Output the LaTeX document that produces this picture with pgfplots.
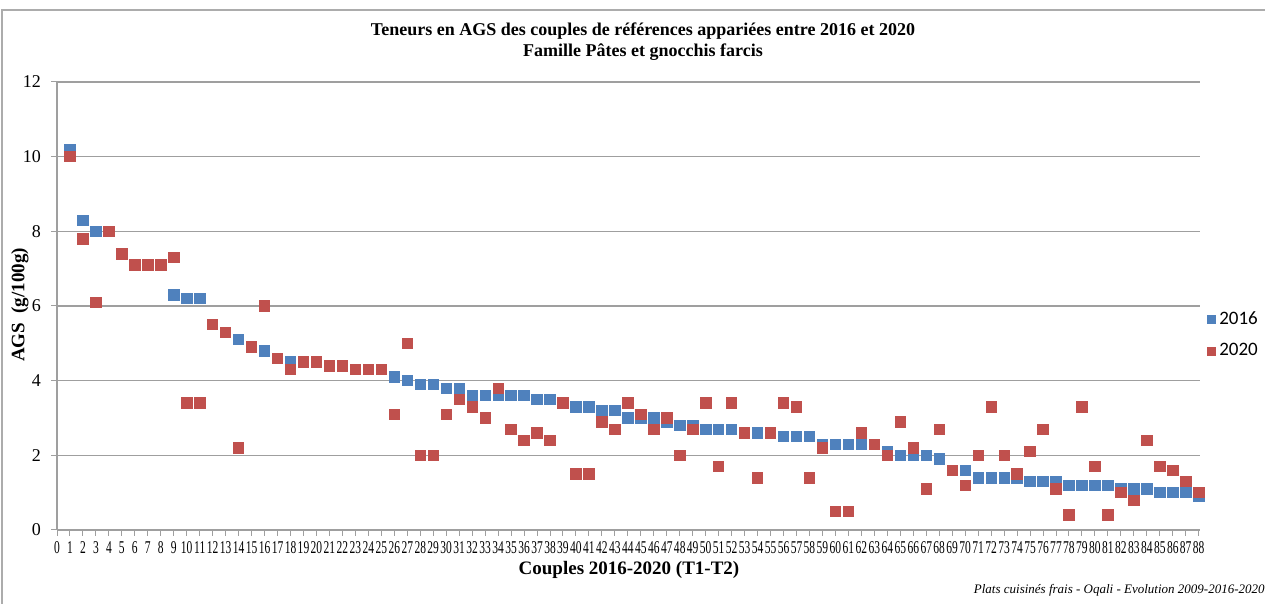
\documentclass[border=0pt]{standalone}
\usepackage{pgfplots}
\pgfplotsset{compat=1.18}
\usepackage{pgfplotstable}
\usepackage{fontspec}
\setmainfont{Liberation Serif}
\newfontfamily\legfont{Carlito}

\definecolor{s2016}{HTML}{4F81BD}
\definecolor{s2020}{HTML}{C0504D}

% couples 2016 (T1)
\pgfplotstableread{
x y
1 10.2
2 8.3
3 8.0
4 8.0
5 7.4
6 7.1
7 7.1
8 7.1
9 6.3
10 6.2
11 6.2
12 5.5
13 5.3
14 5.1
15 4.9
16 4.8
17 4.6
18 4.5
19 4.5
20 4.5
21 4.4
22 4.4
23 4.3
24 4.3
25 4.3
26 4.1
27 4.0
28 3.9
29 3.9
30 3.8
31 3.8
32 3.6
33 3.6
34 3.6
35 3.6
36 3.6
37 3.5
38 3.5
39 3.4
40 3.3
41 3.3
42 3.2
43 3.2
44 3.0
45 3.0
46 3.0
47 2.9
48 2.8
49 2.8
50 2.7
51 2.7
52 2.7
53 2.6
54 2.6
55 2.6
56 2.5
57 2.5
58 2.5
59 2.3
60 2.3
61 2.3
62 2.3
63 2.3
64 2.1
65 2.0
66 2.0
67 2.0
68 1.9
69 1.6
70 1.6
71 1.4
72 1.4
73 1.4
74 1.4
75 1.3
76 1.3
77 1.3
78 1.2
79 1.2
80 1.2
81 1.2
82 1.1
83 1.1
84 1.1
85 1.0
86 1.0
87 1.0
88 0.9
}\tabA

% couples 2020 (T2)
\pgfplotstableread{
x y
1 10.0
2 7.8
3 6.1
4 8.0
5 7.4
6 7.1
7 7.1
8 7.1
9 7.3
10 3.4
11 3.4
12 5.5
13 5.3
14 2.2
15 4.9
16 6.0
17 4.6
18 4.3
19 4.5
20 4.5
21 4.4
22 4.4
23 4.3
24 4.3
25 4.3
26 3.1
27 5.0
28 2.0
29 2.0
30 3.1
31 3.5
32 3.3
33 3.0
34 3.8
35 2.7
36 2.4
37 2.6
38 2.4
39 3.4
40 1.5
41 1.5
42 2.9
43 2.7
44 3.4
45 3.1
46 2.7
47 3.0
48 2.0
49 2.7
50 3.4
51 1.7
52 3.4
53 2.6
54 1.4
55 2.6
56 3.4
57 3.3
58 1.4
59 2.2
60 0.5
61 0.5
62 2.6
63 2.3
64 2.0
65 2.9
66 2.2
67 1.1
68 2.7
69 1.6
70 1.2
71 2.0
72 3.3
73 2.0
74 1.5
75 2.1
76 2.7
77 1.1
78 0.4
79 3.3
80 1.7
81 0.4
82 1.0
83 0.8
84 2.4
85 1.7
86 1.6
87 1.3
88 1.0
}\tabB

\begin{document}
\begin{tikzpicture}
\path[use as bounding box] (-28.5pt,-37pt) rectangle (604pt,265pt);
\draw[gray!65, line width=0.8pt] (-27.5pt,-45pt) -- (-27.5pt,260pt) -- (620pt,260pt);

\begin{axis}[
  at={(0,0)}, anchor=south west,
  scale only axis,
  width=571.5pt, height=224pt,
  xmin=0, xmax=88.1, ymin=0, ymax=12,
  axis lines*=left,
  axis line style={gray!75, line width=0.7pt},
  xtick={0,...,88},
  ytick={0,2,...,12},
  ymajorgrids,
  grid style={gray!75, line width=0.7pt},
  tick align=outside,
  major tick length=3pt,
  tick style={gray!75, line width=0.5pt},
  /pgf/number format/assume math mode=true,
  ticklabel style={font=\fontsize{9}{10}\selectfont},
  xticklabel={\scalebox{0.64}[1]{\pgfmathprintnumber{\tick}}},
  xticklabel style={inner sep=1pt, yshift=-1.5pt},
  yticklabel style={xshift=-1.5pt},
  legend style={draw=none, fill=none, at={(1.006,0.435)}, anchor=west,
    font=\legfont\fontsize{9.5}{10}\selectfont, row sep=4pt, inner sep=0pt,
    /tikz/every even column/.append style={column sep=2pt}},
  legend cell align=left,
  legend image code/.code={\draw[#1, mark size=2pt] plot coordinates {(0pt,0pt)};},
]
\addplot[only marks, mark=square*, mark size=2.6pt, s2016, mark options={draw=s2016, fill=s2016}] table[x=x,y=y] {\tabA};
\addplot[only marks, mark=square*, mark size=2.6pt, s2020, mark options={draw=s2020, fill=s2020}] table[x=x,y=y] {\tabB};
\legend{2016, 2020}
\end{axis}

\node[font=\bfseries\fontsize{9}{10.5}\selectfont, align=center] at (293pt,244pt)
  {Teneurs en AGS des couples de références appariées entre 2016 et 2020\\Famille Pâtes et gnocchis farcis};
\node[font=\bfseries\fontsize{9.5}{10}\selectfont] at (286pt,-20pt) {Couples 2016-2020 (T1-T2)};
\node[font=\bfseries\fontsize{9.5}{10}\selectfont, rotate=90] at (-18.5pt,112.5pt) {AGS\ \ (g/100g)};
\node[anchor=east, font=\itshape\fontsize{6.5}{7}\selectfont, inner sep=0pt] at (604pt,-30pt)
  {Plats cuisinés frais - Oqali - Evolution 2009-2016-2020};
\end{tikzpicture}
\end{document}
